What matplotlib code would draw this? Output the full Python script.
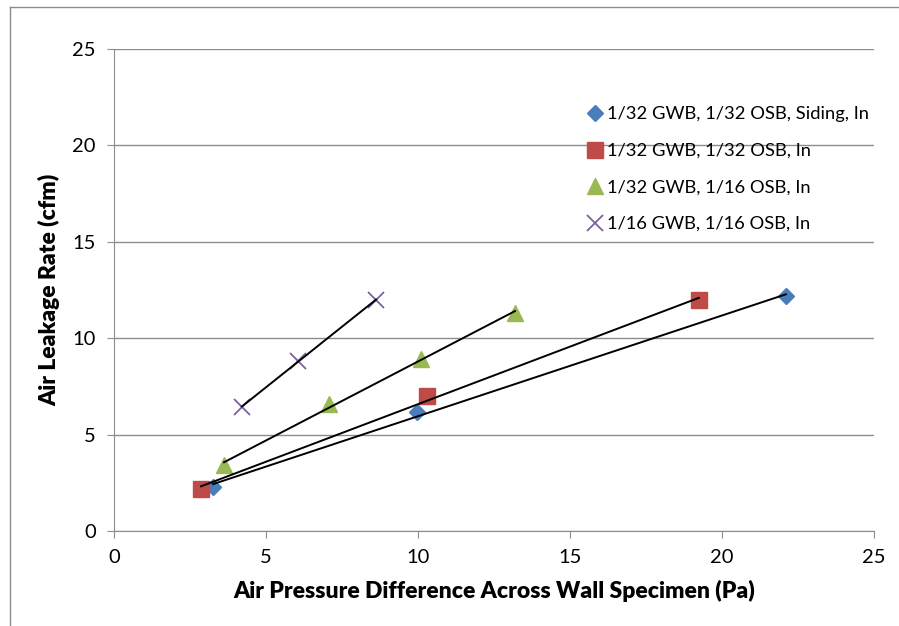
import matplotlib.pyplot as plt
import numpy as np
from matplotlib.lines import Line2D

plt.rcParams['font.family'] = ['Lato', 'DejaVu Sans']

# data
labels = ['1/32 GWB, 1/32 OSB, Siding, In',
          '1/32 GWB, 1/32 OSB, In',
          '1/32 GWB, 1/16 OSB, In',
          '1/16 GWB, 1/16 OSB, In']
x_siding = [3.26, 9.97, 22.1]
y_siding = [2.28, 6.17, 12.19]
x_3232 = [2.86, 10.3, 19.24]
y_3232 = [2.18, 7.0, 11.98]
x_3216 = [3.62, 7.07, 10.1, 13.19]
y_3216 = [3.42, 6.59, 8.92, 11.3]
x_1616 = [4.21, 6.05, 8.62]
y_1616 = [6.43, 8.82, 11.98]

series = [(x_siding, y_siding), (x_3232, y_3232), (x_3216, y_3216), (x_1616, y_1616)]
colors = ['#4a7ebb', '#be4b48', '#98b954', '#7d60a0']
markers = ['D', 's', '^', 'x']
msizes = [8, 11, 11, 11]

fig = plt.figure(figsize=(8.99, 6.26), dpi=100)
ax = fig.add_axes([0.1268, 0.1518, 0.8454, 0.77])

# outer chart border (only top/left visible)
fig.add_artist(Line2D([10/899, 10/899], [0, 1 - 7/626], transform=fig.transFigure, color='#8c8c8c', lw=1))
fig.add_artist(Line2D([10/899, 1], [1 - 7/626, 1 - 7/626], transform=fig.transFigure, color='#8c8c8c', lw=1))

for (xs, ys), c, m, ms, lab in zip(series, colors, markers, msizes, labels):
    xs = np.array(xs)
    ys = np.array(ys)
    if m == 'x':
        ax.plot(xs, ys, linestyle='none', marker=m, color=c, ms=ms, mew=1.3, label=lab, zorder=3)
    else:
        ax.plot(xs, ys, linestyle='none', marker=m, color=c, ms=ms, label=lab, zorder=3)
    # linear trendline
    k, b = np.polyfit(xs, ys, 1)
    xx = np.array([xs.min(), xs.max()])
    ax.plot(xx, k * xx + b, color='black', lw=1.4, zorder=4)

ax.set_xlim(0, 25)
ax.set_ylim(0, 25)
ax.set_xticks(range(0, 26, 5))
ax.set_yticks(range(0, 26, 5))
ax.grid(axis='y', color='#8c8c8c', lw=1)
ax.set_axisbelow(True)
for s in ['top', 'right']:
    ax.spines[s].set_visible(False)
for s in ['left', 'bottom']:
    ax.spines[s].set_color('#8c8c8c')
ax.tick_params(axis='both', direction='out', color='#8c8c8c', length=5, labelsize=14.5, pad=8)

ax.set_xlabel('Air Pressure Difference Across Wall Specimen (Pa)', fontsize=16.5, fontweight='heavy', labelpad=10)
ax.set_ylabel('Air Leakage Rate (cfm)', fontsize=16.5, fontweight='heavy', labelpad=9)

ax.legend(loc='upper left', bbox_to_anchor=(0.595, 0.915), frameon=False, fontsize=13.2,
          handletextpad=0.05, labelspacing=1.12, handlelength=1.3)

fig.savefig('out.png', dpi=100)
